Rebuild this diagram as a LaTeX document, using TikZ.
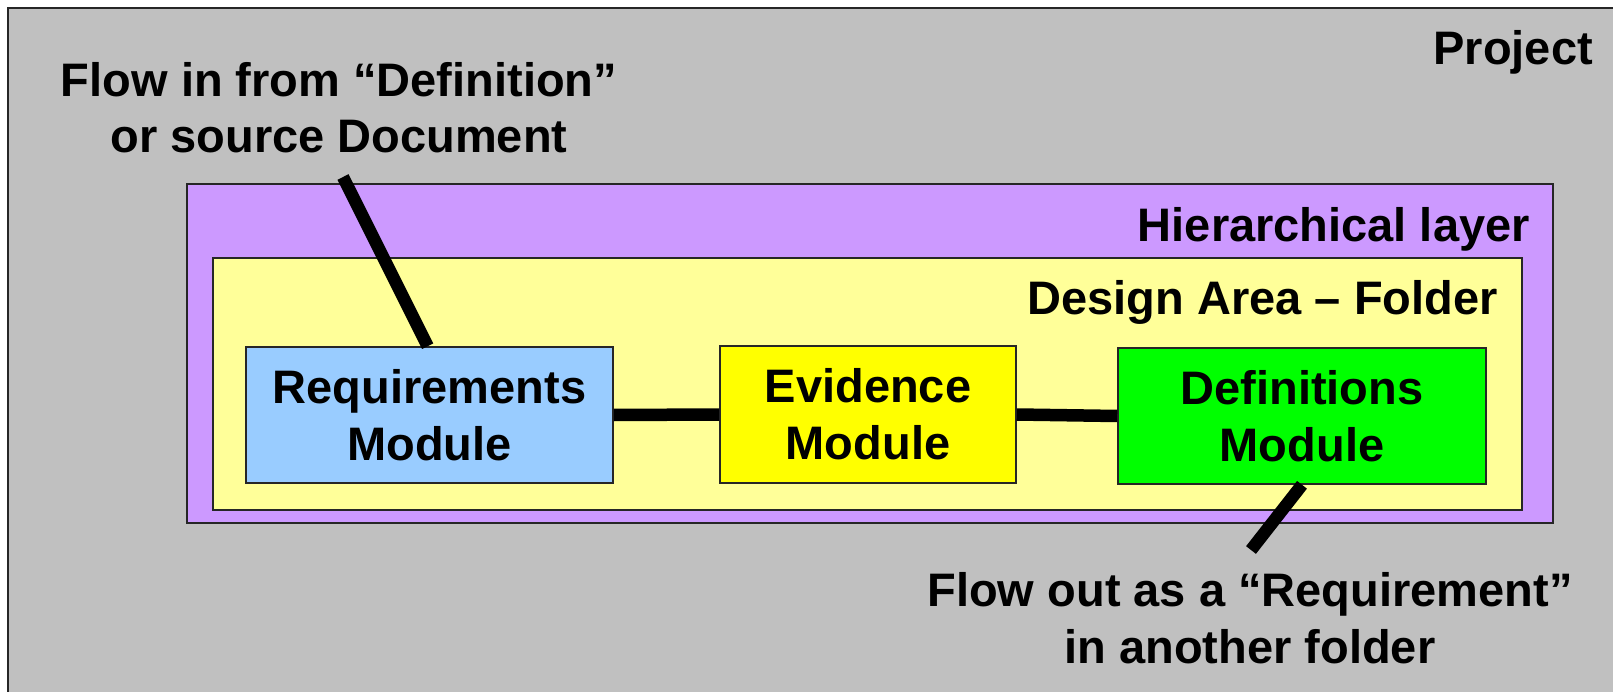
\documentclass[tikz,border=0pt]{standalone}
\usepackage{fontspec}
\setmainfont{Liberation Sans}
\begin{document}
\begin{tikzpicture}[x=1pt,y=-1pt,
  frame/.style={draw=black!85,line width=1.6pt},
  label/.style={inner sep=0pt,font=\fontsize{47pt}{56.5pt}\selectfont\bfseries},
  module/.style={frame,inner sep=0pt,align=center,
    font=\fontsize{47pt}{57pt}\selectfont\bfseries},
  link/.style={line width=12.5pt}]
\clip (0,0) rectangle (1613,692);

% project area (runs off the right and bottom edges)
\fill[white] (0,0) rectangle (1613,692);
\draw[frame,fill={rgb,255:red,192;green,192;blue,192}] (8,8) rectangle (1650,730);
\node[label,anchor=base east] (project) at (1593,65) {Project};

% hierarchical layer and design area
\draw[frame,fill={rgb,255:red,204;green,153;blue,255}] (187,184) rectangle (1553,523);
\node[label,anchor=base east] (hier) at (1530,242) {Hierarchical layer};
\draw[frame,fill={rgb,255:red,255;green,255;blue,153}] (213,258) rectangle (1522,510);
\node[label,anchor=base east] (design) at (1498,315) {Design Area -- Folder};

% modules
\node[module,fill={rgb,255:red,153;green,204;blue,255},
  minimum width=367pt,minimum height=136pt] (req) at (429.5,415) {Requirements\\Module};
\node[module,fill={rgb,255:red,255;green,255;blue,0},
  minimum width=296pt,minimum height=137pt] (evi) at (868,414.5) {Evidence\\Module};
\node[module,fill={rgb,255:red,0;green,255;blue,0},
  minimum width=368pt,minimum height=136pt] (def) at (1302,416) {Definitions\\Module};

\draw[link] (req.east) -- (evi.west);
\draw[link] (evi.east) -- (def.west);

% flow in / flow out annotations (base anchor sits on the last line)
\node[label,align=center,anchor=base] (flowin) at (339,153)
  {Flow in from “Definition”\\or source Document};
\coordinate (inTail) at (343,177);
\draw[link] (inTail) -- ([xshift=182.5pt]req.north west);

\node[label,align=center,anchor=base] (flowout) at (1250,663)
  {Flow out as a “Requirement”\\in another folder};
\coordinate (outTail) at (1251,550);
\draw[link] (def.south) -- (outTail);
\end{tikzpicture}
\end{document}
